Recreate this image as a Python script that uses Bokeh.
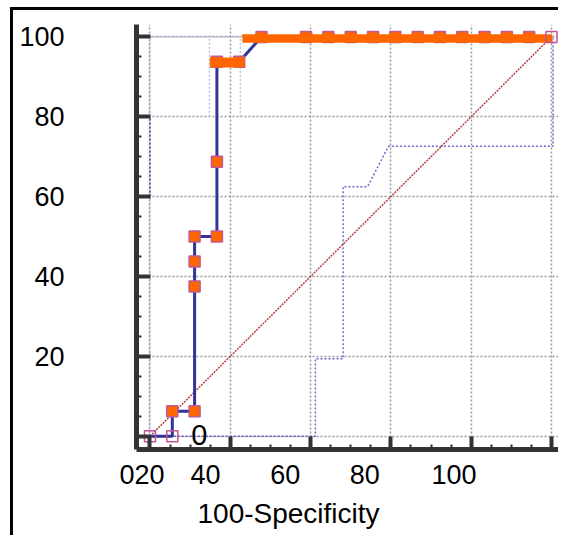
from bokeh.plotting import figure
from bokeh.models import LinearAxis, FixedTicker, Range1d, Label, Title
from bokeh.embed import file_html
from bokeh.resources import INLINE

# ---------------- data ----------------
# ROC curve (100-Specificity, Sensitivity)
roc_x = [0, 5.56, 5.56, 11.11, 11.11, 11.11, 11.11, 16.67, 16.67, 16.67, 22.22,
         27.78, 38.89, 44.44, 50.0, 55.56, 61.11, 66.67, 72.22, 77.78, 83.33,
         88.89, 94.44, 100]
roc_y = [0, 0, 6.25, 6.25, 37.5, 43.75, 50, 50, 68.75, 93.75, 93.75,
         100, 100, 100, 100, 100, 100, 100, 100, 100, 100,
         100, 100, 100]
hollow_idx = [0, 1, 23]

# confidence bounds
ci_low_x = [0, 41.2, 41.2, 48.1, 48.1, 54.2, 59.4, 100.4, 100.4]
ci_low_y = [0, 0, 19.4, 19.4, 62.5, 62.5, 72.6, 72.6, 100]
ci_up_x = [0, 0, 100]
ci_up_y = [0, 100, 100]
ci_up_dark_x = [0, 0]
ci_up_dark_y = [60, 80]
ci_box_xs = [[14.8, 14.8], [22.5, 22.5]]
ci_box_ys = [[80, 100], [80, 100]]

# highlighted runs
bar_x0 = [14.9, 23.0]
bar_x1 = [23.5, 100.2]
bar_y = [93.6, 99.6]

# diagonal reference
diag_x = [0, 100]
diag_y = [0, 100]

# axes
x_ticks = [0, 20, 40, 60, 80, 100]
x_minor = [v for v in range(5, 100, 5) if v % 20]
y_ticks = [0, 20, 40, 60, 80, 100]
y_minor = [v for v in range(5, 100, 5) if v % 20]
y_tick_labels = ["", "20", "40", "60", "80", "100"]
x_tick_labels = ["020", "40", "60", "80", "100"]
x_label_pos = [-2.0, 13.8, 33.7, 53.5, 75.7]
zero_text = "0"
x_title = "100-Specificity"

FONT = "Liberation Sans"
LBL = "27px"

p = figure(width=548, height=528, output_backend="svg", toolbar_location=None,
           x_range=Range1d(-3.36, 102.5), y_range=Range1d(-3.33, 103.1),
           min_border_left=123, min_border_right=0, min_border_top=14,
           min_border_bottom=89)
p.outline_line_color = None
p.background_fill_color = "white"
p.border_fill_color = "white"
p.styles = {"margin-left": "10px", "margin-top": "7px",
            "border-left": "3px solid black", "border-top": "3px solid black"}

# x axis (ticks only)
xa = p.xaxis[0]
xa.ticker = FixedTicker(ticks=x_ticks, minor_ticks=x_minor)
xa.major_label_overrides = {v: "" for v in x_ticks}
xa.axis_line_width = 5
xa.axis_line_color = "#333333"
xa.major_tick_in = 13
xa.major_tick_out = 0
xa.major_tick_line_width = 4
xa.major_tick_line_color = "#333333"
xa.minor_tick_in = 5
xa.minor_tick_out = 0
xa.minor_tick_line_width = 2
xa.minor_tick_line_color = "#333333"
xa.major_label_text_font_size = "2px"
xa.major_label_standoff = 0

# x axis labels (as drawn in the reference)
xb = LinearAxis(ticker=FixedTicker(ticks=x_label_pos, minor_ticks=[]),
                major_label_overrides={pos: lab for pos, lab in zip(x_label_pos, x_tick_labels)})
xb.axis_line_color = None
xb.major_tick_line_color = None
xb.minor_tick_line_color = None
xb.major_tick_out = 0
xb.major_tick_in = 0
xb.major_label_standoff = 15
xb.major_label_text_font = FONT
xb.major_label_text_font_size = LBL
xb.major_label_text_color = "black"
p.add_layout(xb, "below")

t = Title(text=x_title, align="left", offset=61, text_font=FONT, text_font_size="28px",
          text_font_style="normal", text_color="black", standoff=19)
p.add_layout(t, "below")

# y axis
ya = p.yaxis[0]
ya.ticker = FixedTicker(ticks=y_ticks, minor_ticks=y_minor)
ya.major_label_overrides = {v: s for v, s in zip(y_ticks, y_tick_labels)}
ya.axis_line_width = 5
ya.axis_line_color = "#333333"
ya.major_tick_in = 14
ya.major_tick_out = 0
ya.major_tick_line_width = 4
ya.major_tick_line_color = "#333333"
ya.minor_tick_in = 5
ya.minor_tick_out = 0
ya.minor_tick_line_width = 2
ya.minor_tick_line_color = "#333333"
ya.major_label_standoff = 72
ya.major_label_text_font = FONT
ya.major_label_text_font_size = LBL
ya.major_label_text_color = "black"

# grid
p.xgrid.ticker = FixedTicker(ticks=x_ticks)
p.ygrid.ticker = FixedTicker(ticks=y_ticks)
for g in (p.xgrid, p.ygrid):
    g.grid_line_color = "#9a9a9a"
    g.grid_line_dash = "2 2"
    g.grid_line_width = 1.5

# confidence bounds
p.line(ci_up_x, ci_up_y, line_color="#aab8dd", line_width=1.5, line_dash="2 2")
p.line(ci_up_dark_x, ci_up_dark_y, line_color="#4a4ab8", line_width=1.5, line_dash="2 2")
p.multi_line(ci_box_xs, ci_box_ys, line_color="#b8c4e0", line_width=1.5, line_dash="2 2")
p.line(ci_low_x, ci_low_y, line_color="#6a6ad0", line_width=1.5, line_dash="2 2")

# diagonal
p.line(diag_x, diag_y, line_color="#b84040", line_width=1.5, line_dash="2 1")

# ROC curve
p.line(roc_x, roc_y, line_color="#333399", line_width=3)
fx = [x for i, x in enumerate(roc_x) if i not in hollow_idx]
fy = [y for i, y in enumerate(roc_y) if i not in hollow_idx]
p.scatter(fx, fy, marker="square", size=11, fill_color="#ff6600",
          line_color="#c05a95", line_width=1.5)

# highlighted runs
p.segment(x0=bar_x0[:1], y0=bar_y[:1], x1=bar_x1[:1], y1=bar_y[:1],
          line_color="#ff6600", line_width=10, line_cap="butt")
p.segment(x0=bar_x0[1:], y0=bar_y[1:], x1=bar_x1[1:], y1=bar_y[1:],
          line_color="#ff6600", line_width=8.5, line_cap="butt")

hx = [roc_x[i] for i in hollow_idx]
hy = [roc_y[i] for i in hollow_idx]
p.scatter(hx, hy, marker="square", size=11, fill_color=None,
          line_color="#c05595", line_width=1.5)

# stray "0" label
p.add_layout(Label(x=12.3, y=0.4, text=zero_text, text_align="center",
                   text_baseline="middle", text_font=FONT, text_font_size="29px",
                   text_color="black"))

open("out.html", "w").write(file_html(p, INLINE))
